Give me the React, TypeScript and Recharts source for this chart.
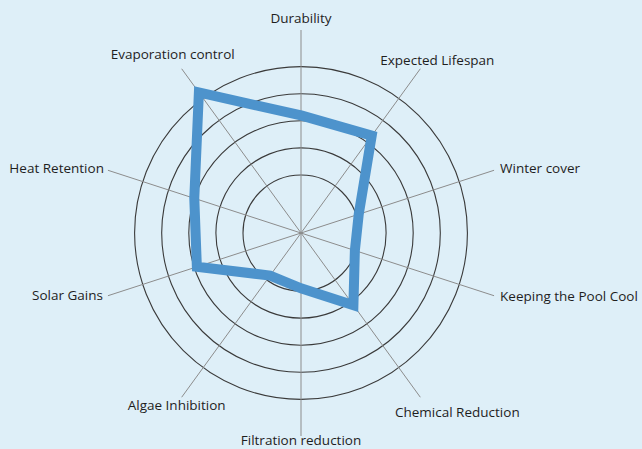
import * as React from 'react';
import { RadarChart, Radar, PolarGrid, PolarAngleAxis, PolarRadiusAxis } from 'recharts';

// axes, clockwise from the top
const categories = [
  'Durability',
  'Expected Lifespan',
  'Winter cover',
  'Keeping the Pool Cool',
  'Chemical Reduction',
  'Filtration reduction',
  'Algae Inhibition',
  'Solar Gains',
  'Heat Retention',
  'Evaporation control',
];

// score per axis, in ring units (ring 1 .. ring 5)
const scores = [3.2, 3.3, 1.1, 0.95, 2.15, 0.9, 0.8, 2.9, 3.0, 5.27];

const ringTicks = [1, 2, 3, 4, 5];

const data = categories.map((name, i) => ({ name, value: scores[i] }));

// hand-placed label nudges relative to the end of each spoke
const labelPlacement: Record<string, { anchor: 'start' | 'middle' | 'end'; dx: number; dy: number }> = {
  'Durability': { anchor: 'middle', dx: 0, dy: -7 },
  'Expected Lifespan': { anchor: 'middle', dx: 17, dy: -4 },
  'Winter cover': { anchor: 'start', dx: 6, dy: 3 },
  'Keeping the Pool Cool': { anchor: 'start', dx: 6, dy: 5 },
  'Chemical Reduction': { anchor: 'middle', dx: 37, dy: 20 },
  'Filtration reduction': { anchor: 'middle', dx: 0, dy: 9 },
  'Algae Inhibition': { anchor: 'middle', dx: -5, dy: 13 },
  'Solar Gains': { anchor: 'end', dx: -5, dy: 4 },
  'Heat Retention': { anchor: 'end', dx: -4, dy: 3 },
  'Evaporation control': { anchor: 'middle', dx: -9, dy: -10 },
};

const TICK_GAP = 8; // recharts puts the tick this far past the spoke end

const AxisLabel = (props: any) => {
  const { x, y, payload } = props;
  const rad = (payload.coordinate * Math.PI) / 180;
  // back to the end of the spoke
  const ex = x - TICK_GAP * Math.cos(rad);
  const ey = y + TICK_GAP * Math.sin(rad);
  const place = labelPlacement[payload.value] || { anchor: 'middle', dx: 0, dy: 0 };
  return (
    <text
      x={ex + place.dx}
      y={ey + place.dy}
      textAnchor={place.anchor}
      fill="#1e1e1e"
      fontSize={13.5}
      fontFamily="'Open Sans', sans-serif"
    >
      {payload.value}
    </text>
  );
};

const App: React.FC = () => {
  return (
    <div
      style={{
        position: 'absolute',
        left: 0,
        top: 0,
        width: 642,
        height: 449,
        background: '#DEEFF8',
        overflow: 'hidden',
      }}
    >
      <style>{`
        .recharts-polar-grid-angle line { stroke: #8c8c8c; }
        .recharts-polar-grid-concentric circle { stroke: #3a3a3a; stroke-width: 1.1px; }
      `}</style>
      <RadarChart width={642} height={449} data={data} cx={301} cy={233} outerRadius={203}>
        <PolarGrid gridType="circle" strokeWidth={1} />
        <PolarAngleAxis dataKey="name" tick={<AxisLabel />} tickLine={false} axisLine={false} />
        <PolarRadiusAxis
          angle={90}
          domain={[-1.14, 6.35]}
          ticks={ringTicks}
          allowDataOverflow
          tick={false}
          tickLine={false}
          axisLine={false}
        />
        <Radar
          dataKey="value"
          stroke="#4d93cc"
          strokeWidth={10}
          strokeLinejoin="miter"
          fill="none"
          fillOpacity={0}
          dot={false}
          isAnimationActive={false}
        />
      </RadarChart>
    </div>
  );
};

export default App;
